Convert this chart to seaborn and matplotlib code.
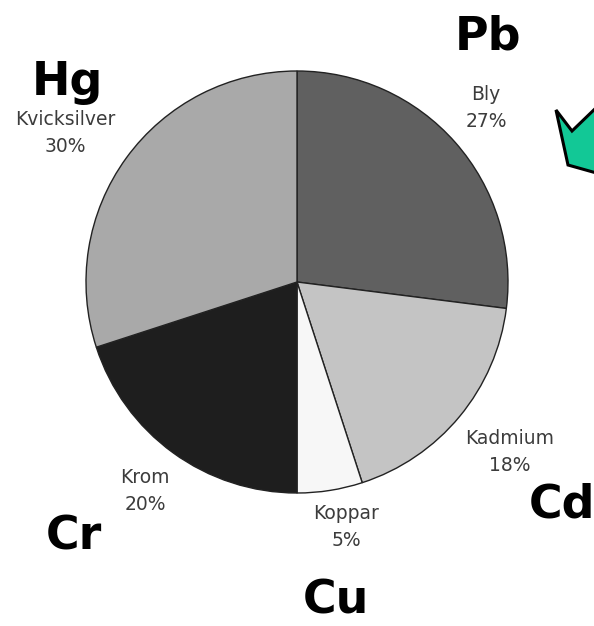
import matplotlib
matplotlib.use("Agg")
import matplotlib.pyplot as plt
from matplotlib.patches import Polygon
import seaborn as sns

# Heavy metal shares
metals = ["Bly", "Kadmium", "Koppar", "Krom", "Kvicksilver"]
shares = [27, 18, 5, 20, 30]
symbols = ["Pb", "Cd", "Cu", "Cr", "Hg"]
grays = ["#606060", "#c4c4c4", "#f7f7f7", "#1e1e1e", "#a9a9a9"]

sns.set_theme(style="white")
plt.rcParams["font.family"] = ["DejaVu Sans"]

W, H = 594, 626
fig = plt.figure(figsize=(W / 100, H / 100), dpi=100)


def fx(px):
    return px / W


def fy(py):
    return 1 - py / H


# pie centred at (297, 282) px with a radius of 211 px
cx, cy, r = 297, 282, 211
ax = fig.add_axes([fx(cx - r), fy(cy + r), 2 * r / W, 2 * r / H])
ax.pie(shares, colors=grays, startangle=90, counterclock=False, radius=1,
       wedgeprops=dict(edgecolor="#222222", linewidth=1.0))
ax.set_xlim(-1.0, 1.0)
ax.set_ylim(-1.0, 1.0)
ax.set_aspect("equal")
ax.axis("off")

# name + percentage labels
label_pos = [(486, 108), (510, 452), (346, 527), (145, 491), (65, 133)]
for name, val, (x, y) in zip(metals, shares, label_pos):
    fig.text(fx(x), fy(y), f"{name}\n{val}%", ha="center", va="center",
             fontsize=13.5, color="#3c3c3c", linespacing=1.5)

# chemical symbols
symbol_pos = [(488, 50), (562, 518), (336, 614), (74, 550), (67, 95)]
for sym, (x, y) in zip(symbols, symbol_pos):
    fig.text(fx(x), fy(y), sym, ha="center", va="baseline",
             fontsize=33, fontweight="bold", color="black")

# green pointer shape at the right edge
pts = [(556, 110), (572, 131), (600, 104), (600, 174), (568, 165)]
fig.patches.append(Polygon([(fx(x), fy(y)) for x, y in pts], closed=True,
                           transform=fig.transFigure, facecolor="#12c896",
                           edgecolor="black", linewidth=2.2, joinstyle="miter"))

fig.savefig("out.png", dpi=100)
